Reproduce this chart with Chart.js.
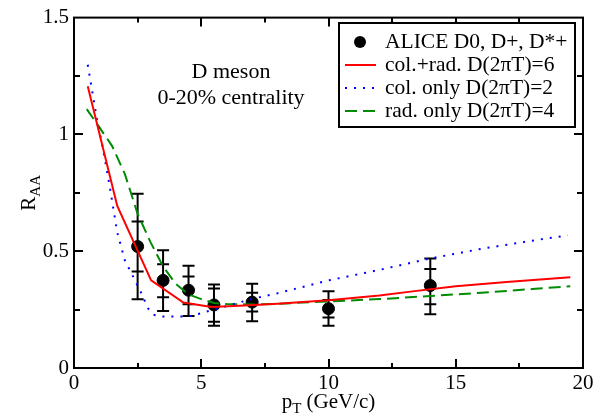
<!DOCTYPE html>
<html>
<head>
<meta charset="utf-8">
<script src="https://cdn.jsdelivr.net/npm/chart.js@4.4.0/dist/chart.umd.min.js"></script>
<style>
    html, body { margin: 0; padding: 0; background: #fff; }
    #chart { display: block; }
</style>
</head>
<body>
<canvas id="chart" width="605" height="418"></canvas>
<script>
// --- Data ---
const xTicks = [0, 5, 10, 15, 20];
const yTicks = [0, 0.5, 1, 1.5];

// ALICE D0, D+, D*+ points with error bars
const dataPt = [2.5, 3.5, 4.5, 5.5, 7, 10, 14];
const dataRaa = [0.52, 0.375, 0.333, 0.27, 0.282, 0.254, 0.353];
const errLow = [0.294, 0.244, 0.223, 0.181, 0.2, 0.181, 0.23];
const errHigh = [0.746, 0.504, 0.438, 0.357, 0.361, 0.329, 0.469];
const sysLow = [0.413, 0.303, 0.273, 0.198, 0.242, 0.216, 0.273];
const sysHigh = [0.627, 0.444, 0.392, 0.34, 0.322, 0.291, 0.424];

// col.+rad. D(2piT)=6
const redPt = [0.54, 1.7, 3.03, 4.3, 5.4, 6.5, 8, 10, 12, 13.3, 15, 17, 19.5];
const redRaa = [1.206, 0.694, 0.375, 0.28, 0.261, 0.266, 0.275, 0.29, 0.31, 0.328, 0.35, 0.368, 0.388];

// col. only D(2piT)=2
const bluePt = [0.54, 0.9, 1.1, 1.4, 1.7, 2.0, 2.33, 2.62, 2.92, 3.12, 3.5, 4.2, 4.6, 5.3, 6, 7, 8, 10, 12, 14, 16, 18, 19.4];
const blueRaa = [1.298, 1.066, 0.96, 0.78, 0.58, 0.46, 0.39, 0.326, 0.254, 0.228, 0.22, 0.22, 0.223, 0.244, 0.265, 0.296, 0.32, 0.375, 0.42, 0.469, 0.51, 0.545, 0.568];

// rad. only D(2piT)=4
const greenPt = [0.5, 1.0, 1.5, 2.0, 2.5, 3.0, 3.5, 4.0, 4.5, 5.0, 5.5, 6, 7, 8, 10, 12, 14, 16, 18, 19.5];
const greenRaa = [1.108, 1.03, 0.95, 0.83, 0.66, 0.54, 0.435, 0.36, 0.315, 0.295, 0.278, 0.274, 0.272, 0.275, 0.285, 0.295, 0.308, 0.322, 0.338, 0.35];

const legendLabels = ['ALICE D0, D+, D*+', 'col.+rad. D(2\u03C0T)=6', 'col. only D(2\u03C0T)=2', 'rad. only D(2\u03C0T)=4'];
const noteLines = ['D meson', '0-20% centrality'];

const SERIF = '"Liberation Serif", "DejaVu Serif", serif';

function pairs(xs, ys) {
    return xs.map((x, i) => ({ x: x, y: ys[i] }));
}

// error bars go under the markers and curves
const errorBars = {
    id: 'errorBars',
    beforeDatasetsDraw(chart) {
        const ctx = chart.ctx;
        const x = chart.scales.x, y = chart.scales.y;
        const cap = 6;
        ctx.save();
        ctx.strokeStyle = '#000';
        ctx.lineWidth = 2;
        dataPt.forEach((pt, i) => {
            const px = x.getPixelForValue(pt);
            const lo = y.getPixelForValue(errLow[i]);
            const hi = y.getPixelForValue(errHigh[i]);
            const slo = y.getPixelForValue(sysLow[i]);
            const shi = y.getPixelForValue(sysHigh[i]);
            ctx.beginPath();
            ctx.moveTo(px, lo); ctx.lineTo(px, hi);
            [lo, hi, slo, shi].forEach(py => {
                ctx.moveTo(px - cap, py); ctx.lineTo(px + cap, py);
            });
            ctx.stroke();
        });
        ctx.restore();
    }
};

// frame, inward ticks, axis titles, note and legend box
const decorations = {
    id: 'decorations',
    afterDraw(chart) {
        const ctx = chart.ctx;
        const a = chart.chartArea;
        const x = chart.scales.x, y = chart.scales.y;
        ctx.save();
        ctx.strokeStyle = '#000';
        ctx.fillStyle = '#000';
        ctx.lineWidth = 2;
        ctx.strokeRect(a.left, a.top, a.right - a.left, a.bottom - a.top);

        ctx.beginPath();
        for (let v = 2.5; v < 20; v += 2.5) {
            const px = Math.round(x.getPixelForValue(v));
            const len = (v % 5 === 0) ? 9 : 5;
            ctx.moveTo(px, a.bottom); ctx.lineTo(px, a.bottom - len);
            ctx.moveTo(px, a.top); ctx.lineTo(px, a.top + len);
        }
        for (let v = 0.25; v < 1.5; v += 0.25) {
            const py = Math.round(y.getPixelForValue(v));
            const len = (Math.abs(v % 0.5) < 1e-6) ? 9 : 6;
            ctx.moveTo(a.left, py); ctx.lineTo(a.left + len, py);
            ctx.moveTo(a.right, py); ctx.lineTo(a.right - len, py);
        }
        ctx.stroke();

        // x title: p_T (GeV/c)
        ctx.textBaseline = 'alphabetic';
        ctx.textAlign = 'left';
        const big = '21px ' + SERIF, small = '15px ' + SERIF;
        ctx.font = big;
        const wP = ctx.measureText('p').width;
        const wRest = ctx.measureText(' (GeV/c)').width;
        ctx.font = small;
        const wT = ctx.measureText('T').width;
        let tx = (a.left + a.right) / 2 - (wP + wT + wRest) / 2;
        const ty = 408;
        ctx.font = big; ctx.fillText('p', tx, ty);
        ctx.font = small; ctx.fillText('T', tx + wP, ty + 5);
        ctx.font = big; ctx.fillText(' (GeV/c)', tx + wP + wT, ty);

        // y title: R_AA
        ctx.save();
        ctx.translate(35, (a.top + a.bottom) / 2);
        ctx.rotate(-Math.PI / 2);
        ctx.font = big;
        const wR = ctx.measureText('R').width;
        ctx.font = small;
        const wAA = ctx.measureText('AA').width;
        const rx = -(wR + wAA) / 2;
        ctx.font = big; ctx.fillText('R', rx, 0);
        ctx.font = small; ctx.fillText('AA', rx + wR, 5);
        ctx.restore();

        // note
        ctx.font = '22px ' + SERIF;
        ctx.textAlign = 'center';
        ctx.textBaseline = 'middle';
        ctx.fillText(noteLines[0], 231, 72);
        ctx.fillText(noteLines[1], 231, 98);

        // legend
        const lx = 339, ly = 23, lw = 236, lh = 104;
        ctx.fillStyle = '#fff';
        ctx.fillRect(lx, ly, lw, lh);
        ctx.strokeStyle = '#000';
        ctx.lineWidth = 2;
        ctx.strokeRect(lx, ly, lw, lh);
        const rows = [42, 65, 88, 111];
        const styles = [null, ['#ff0000', []], ['#0000ff', [2, 7]], ['#008c00', [12, 6]]];
        rows.forEach((ry, i) => {
            if (i === 0) {
                ctx.fillStyle = '#000';
                ctx.beginPath();
                ctx.arc(360, ry, 6, 0, Math.PI * 2);
                ctx.fill();
            } else {
                ctx.strokeStyle = styles[i][0];
                ctx.setLineDash(styles[i][1]);
                ctx.beginPath();
                ctx.moveTo(345, ry); ctx.lineTo(376, ry);
                ctx.stroke();
                ctx.setLineDash([]);
            }
            ctx.fillStyle = '#000';
            ctx.textAlign = 'left';
            ctx.font = '21.5px ' + SERIF;
            ctx.fillText(legendLabels[i], 385, ry);
        });
        ctx.restore();
    }
};

const ctx = document.getElementById('chart').getContext('2d');
new Chart(ctx, {
    type: 'scatter',
    data: {
        datasets: [
            {
                label: legendLabels[1],
                type: 'line',
                data: pairs(redPt, redRaa),
                borderColor: '#ff0000',
                borderWidth: 2,
                pointRadius: 0,
                tension: 0,
                fill: false
            },
            {
                label: legendLabels[2],
                type: 'line',
                data: pairs(bluePt, blueRaa),
                borderColor: '#0000ff',
                borderWidth: 2,
                borderDash: [2, 7],
                pointRadius: 0,
                tension: 0,
                fill: false
            },
            {
                label: legendLabels[3],
                type: 'line',
                data: pairs(greenPt, greenRaa),
                borderColor: '#008c00',
                borderWidth: 2,
                borderDash: [12, 6],
                pointRadius: 0,
                tension: 0,
                fill: false
            },
            {
                label: legendLabels[0],
                data: pairs(dataPt, dataRaa),
                backgroundColor: '#000',
                borderColor: '#000',
                pointRadius: 6,
                pointHoverRadius: 6
            }
        ]
    },
    options: {
        responsive: false,
        animation: false,
        events: [],
        layout: { padding: { top: 12, right: 22, left: 0, bottom: 0 } },
        plugins: {
            legend: { display: false },
            tooltip: { enabled: false }
        },
        scales: {
            x: {
                type: 'linear',
                min: 0,
                max: 20,
                grid: { display: false, drawTicks: false },
                border: { display: false },
                afterFit: s => { s.height = 50; },
                afterBuildTicks: s => { s.ticks = xTicks.map(v => ({ value: v })); },
                ticks: {
                    color: '#000',
                    padding: 3,
                    maxRotation: 0,
                    callback: v => String(v),
                    font: { family: SERIF, size: 21 }
                }
            },
            y: {
                min: 0,
                max: 1.5,
                grid: { display: false, drawTicks: false },
                border: { display: false },
                afterFit: s => { s.width = 74; },
                afterBuildTicks: s => { s.ticks = yTicks.map(v => ({ value: v })); },
                ticks: {
                    color: '#000',
                    padding: 5,
                    callback: v => String(v),
                    font: { family: SERIF, size: 21 }
                }
            }
        }
    },
    plugins: [errorBars, decorations]
});
</script>
</body>
</html>
